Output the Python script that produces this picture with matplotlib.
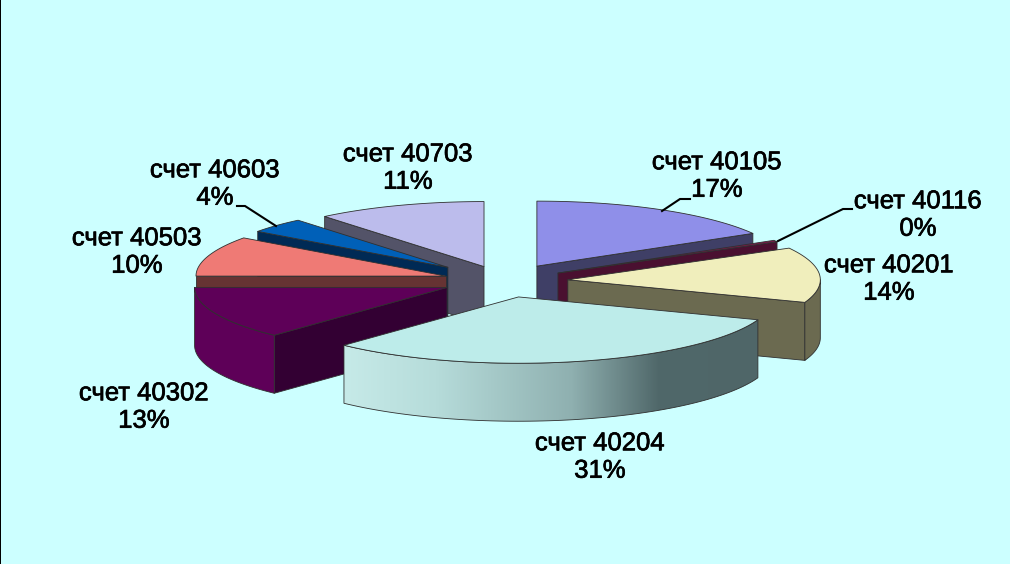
import numpy as np
import matplotlib
matplotlib.use("Agg")
import matplotlib.pyplot as plt
from matplotlib.patches import Polygon
from matplotlib.colors import LinearSegmentedColormap
import matplotlib.patheffects as pe

names = ["счет 40105", "счет 40116", "счет 40201", "счет 40204",
         "счет 40302", "счет 40503", "счет 40603", "счет 40703"]
shares = [16.6, 0.4, 13.6, 31.4, 13.0, 10.0, 4.0, 11.0]
percents = [17, 0, 14, 31, 13, 10, 4, 11]

# look of each slice
top_colors = ["#8f8fe9", "#7a1a4a", "#f0eebc", "#bdecea", "#5e0058", "#ef7a75", "#0060b8", "#bcbcec"]
side_colors = ["#3f3f66", "#4a1030", "#6b6a50", "#4f6668", "#330033", "#663333", "#002a55", "#535368"]
rim_colors = ["#3f3f66", "#4a1030", "#6b6a50", None, "#5e0058", "#663333", "#002a55", "#535368"]
explode = [66, 62, 64, 63, 62, 61, 77, 59]
radius_scale = [1, 1, 1.01, 1.02, 1.01, 1, 0.94, 1]
draw_order = [0, 7, 1, 6, 5, 2, 4, 3]

label_x = [717, 918, 889, 600, 144, 137, 215, 408]
label_y = [176, 215, 279, 457, 407, 252, 184, 168]

CX, CY = 504, 281
RX, RY = 250, 65
DEPTH = 58

fig = plt.figure(figsize=(10.1, 5.64), dpi=100, facecolor="#ccffff")
ax = fig.add_axes([0, 0, 1, 1])
ax.set_facecolor("#ccffff")
ax.axis("off")


def arc(ox, oy, t1, t2, scale, dy=0):
    t = np.radians(np.linspace(t1, t2, 80))
    return np.column_stack([ox + scale * RX * np.sin(t), oy - scale * RY * np.cos(t) + dy])


def draw_slice(i, t1, t2, z):
    mid = np.radians((t1 + t2) / 2)
    ox = CX + explode[i] * np.sin(mid)
    oy = CY - explode[i] * RY / RX * np.cos(mid)
    s = radius_scale[i]
    edge = dict(edgecolor="#303030", linewidth=0.6, joinstyle="round")

    # radial faces that look towards the viewer
    for t, show in ((t1, np.sin(np.radians(t1)) < -0.01), (t2, np.sin(np.radians(t2)) > 0.01)):
        if show:
            p = arc(ox, oy, t, t, s)[0]
            ax.add_patch(Polygon([(ox, oy), p, (p[0], p[1] + DEPTH), (ox, oy + DEPTH)],
                                 facecolor=side_colors[i], zorder=z, **edge))

    # outer rim, front half only
    a, b = max(t1, 90), min(t2, 270)
    if a < b:
        up = arc(ox, oy, a, b, s)
        down = arc(ox, oy, a, b, s, DEPTH)[::-1]
        outline = np.vstack([up, down])
        if rim_colors[i] is None:
            rim = Polygon(outline, facecolor="none", edgecolor="none", zorder=z)
            ax.add_patch(rim)
            cmap = LinearSegmentedColormap.from_list(
                "rim", [(0, "#c6eae8"), (0.22, "#b6dcda"), (0.55, "#8fb0b0"), (0.76, "#50686a"), (1, "#4f6668")])
            img = ax.imshow(np.linspace(0, 1, 256).reshape(1, -1), cmap=cmap, aspect="auto",
                            extent=(up[:, 0].min(), up[:, 0].max(), 564, 0), zorder=z + 1)
            img.set_clip_path(rim)
            ax.add_patch(Polygon(outline, facecolor="none", zorder=z + 2, **edge))
        else:
            ax.add_patch(Polygon(outline, facecolor=rim_colors[i], zorder=z + 1, **edge))

    ax.add_patch(Polygon(np.vstack([[(ox, oy)], arc(ox, oy, t1, t2, s)]),
                         facecolor=top_colors[i], zorder=z + 3, **edge))


ends = np.cumsum(shares) / np.sum(shares) * 360
starts = np.concatenate([[0], ends[:-1]])

for n, i in enumerate(draw_order):
    draw_slice(i, starts[i], ends[i], 10 + n * 10)

# leader lines
leaders = {0: ([662, 680, 690], [211, 199, 199]),
           1: ([778, 843, 852], [241, 209, 209]),
           6: ([276, 245, 237], [226, 206, 206])}
for xs, ys in leaders.values():
    ax.plot(xs, ys, color="black", linewidth=1.5, zorder=200, solid_joinstyle="miter")

for name, pct, x, y in zip(names, percents, label_x, label_y):
    ax.text(x, y, f"{name}\n{pct}%", ha="center", va="center", fontsize=18.5,
            family="Liberation Sans", color="black", linespacing=1.18, zorder=210,
            path_effects=[pe.withStroke(linewidth=0.5, foreground="black")])

# thin black edge down the left side of the picture
fig.patches.append(plt.Rectangle((0, 0), 1 / 1010, 1, transform=fig.transFigure,
                                 facecolor="black", edgecolor="none", figure=fig, zorder=220))

ax.set_xlim(0, 1010)
ax.set_ylim(564, 0)
fig.savefig("out.png", dpi=100, facecolor=fig.get_facecolor())
